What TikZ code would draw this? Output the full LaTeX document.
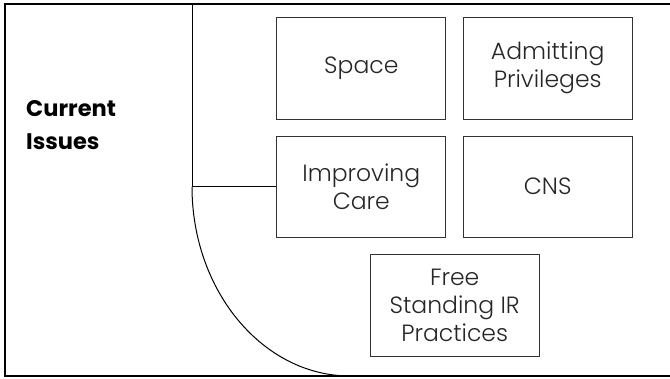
\documentclass[tikz,border=0pt]{standalone}
\usepackage{fontspec}
\setmainfont{Poppins Light}[BoldFont={Poppins Bold}]
\begin{document}
\begin{tikzpicture}[x=1pt,y=-1pt,
  issue/.style={draw=black!80, line width=0.9pt, minimum width=169pt, minimum height=101.5pt,
    inner sep=0pt, align=center, font=\fontsize{23.5}{28}\selectfont, text=black!85},
  frameline/.style={line width=2.2pt, draw=black},
  thinline/.style={line width=1pt, draw=black}]
\useasboundingbox (0,0) rectangle (670,378);
\fill[white] (0,0) rectangle (670,378);
% frame
\draw[frameline] (670,4) -- (5,4) -- (5,376) -- (670,376);
% title
\node[anchor=west, align=left, font=\fontsize{22.5}{33}\selectfont\bfseries, inner sep=0pt] (title) at (26,125) {Current\\Issues};
% boxes
\node[issue] (space) at (361.3,68.2) {Space};
\node[issue] (admit) at (547.7,68.2) {Admitting\\Privileges};
\node[issue] (care) at (361.3,186.7) {Improving\\Care};
\node[issue] (cns) at (547.7,186.7) {CNS};
\node[issue] (free) at (454.7,305.2) {Free\\Standing IR\\Practices};
% bracket
\coordinate (top) at (192,4);
\coordinate (mid) at (192,186.7);
\coordinate (bot) at (350,376);
\draw[thinline] (top) -- (mid);
\draw[thinline] (mid) -- (care.west);
\draw[thinline] (mid) .. controls (192,291) and (263,376) .. (bot);
\end{tikzpicture}
\end{document}
